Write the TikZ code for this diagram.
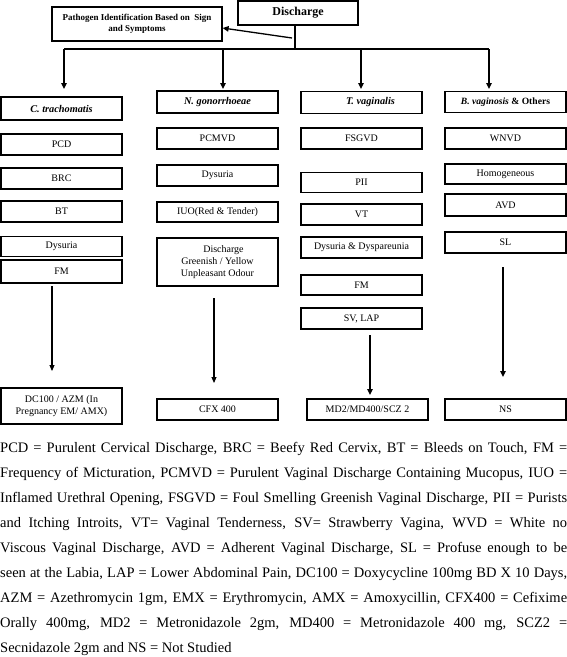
\documentclass[tikz,border=0pt]{standalone}
\usepackage{fontspec}
\setmainfont{Liberation Serif}
\usetikzlibrary{arrows.meta,shadows}
\tikzset{
  shd/.style={fill=white, drop shadow={shadow xshift=0.9pt, shadow yshift=-0.9pt, opacity=1, fill=black}},
  bx/.style={draw, shd, line width=1.2pt, minimum width=121pt, inner sep=1pt, align=center, font=\fontsize{10}{12}\selectfont},
  hd/.style={bx, font=\fontsize{10.3}{12}\selectfont\bfseries\itshape},
  arr/.style={-{Triangle[length=6pt,width=5.5pt]}, line width=1.6pt},
  arrthin/.style={-{Triangle[length=6pt,width=5pt]}, line width=1.1pt},
  conn/.style={line width=1.5pt},
  para/.style={anchor=base west, inner sep=0pt, font=\fontsize{14.5}{25}\selectfont},
}
\begin{document}
\begin{tikzpicture}[x=1pt,y=-1pt]
\useasboundingbox (0,0) rectangle (567,657);
% top
\node[draw, shd, line width=1.2pt, minimum width=120pt, minimum height=24pt, inner sep=0pt, font=\fontsize{12}{14}\selectfont\bfseries] (disch) at (298,13) {Discharge};
\node[draw, shd, line width=1.2pt, minimum width=170pt, minimum height=34pt, inner sep=1pt, align=center, font=\fontsize{9}{12}\selectfont\bfseries] (path) at (137,24) {Pathogen Identification Based on\ \ Sign\\[-1pt]and Symptoms};
\coordinate (j) at (295,49);
\coordinate (pa) at (292,38);
\coordinate (h1) at (64,49);
\coordinate (h2) at (223,49);
\coordinate (h3) at (361,49);
\coordinate (h4) at (489,49);
\coordinate (t1) at (64,89);
\coordinate (t2) at (223,89);
\coordinate (t3) at (361,89);
\coordinate (t4) at (489,89);
\draw[conn] (disch.south -| j) -- (j);
\draw[arr, line width=1.3pt] (pa) -- ([yshift=-4pt]path.east);
\draw[conn] (h1) -- (h4);
\draw[arr] (h1) -- (t1);
\draw[arr] (h2) -- (t2);
\draw[arr] (h3) -- (t3);
\draw[arr] (h4) -- (t4);
% column 1
\node[hd, minimum height=23pt] (ct) at (61.5,108.5) {C. trachomatis};
\node[bx, minimum height=21pt] (pcd) at (61.5,144.5) {PCD};
\node[bx, minimum height=21pt] (brc) at (61.5,178.5) {BRC};
\node[bx, minimum height=21pt] (bt) at (61.5,211.5) {BT};
\node[bx, minimum height=20pt] (dy1) at (61.5,246.5) {Dysuria};
\node[bx, minimum height=23pt] (fm1) at (61.5,271.5) {FM};
\node[bx, minimum height=36pt] (dc) at (61.5,406) {DC100 / AZM (In\\Pregnancy EM/ AMX)};
% column 2
\node[hd, minimum height=22pt] (ng) at (217.5,102) {N. gonorrhoeae};
\node[bx, minimum height=21pt] (pcmvd) at (217.5,138.5) {PCMVD};
\node[bx, minimum height=21pt] (dy2) at (217.5,175.5) {Dysuria};
\node[bx, minimum height=20pt] (iuo) at (217.5,212) {IUO(Red \& Tender)};
\node[bx, minimum height=48pt] (dis) at (217.5,262) {\hspace*{12pt}Discharge\\Greenish / Yellow\\Unpleasant Odour};
\node[bx, minimum height=21pt] (cfx) at (217.5,409.5) {CFX 400};
% column 3
\node[hd, minimum height=22pt] (tv) at (361.5,102.5) {\hspace*{18pt}T. vaginalis};
\node[bx, minimum height=21pt] (fsgvd) at (361.5,138.5) {FSGVD};
\node[bx, minimum height=20pt] (pii) at (361.5,182.5) {PII};
\node[bx, minimum height=21pt] (vt) at (361.5,214.5) {VT};
\node[bx, minimum height=21pt] (dd) at (361.5,247.5) {Dysuria \& Dyspareunia};
\node[bx, minimum height=20pt] (fm3) at (361.5,285) {FM};
\node[bx, minimum height=21pt] (svlap) at (361.5,318.5) {SV, LAP};
\node[bx, minimum height=21pt] (md) at (367.5,409.5) {MD2/MD400/SCZ 2};
% column 4
\node[bx, minimum height=21pt, font=\fontsize{9.6}{12}\selectfont\bfseries] (bv) at (505.5,102) {\textit{B. vaginosis} \& Others};
\node[bx, minimum height=21pt] (wnvd) at (505.5,138.5) {WNVD};
\node[bx, minimum height=20pt] (hom) at (505.5,174) {Homogeneous};
\node[bx, minimum height=22pt] (avd) at (505.5,205) {AVD};
\node[bx, minimum height=21pt] (sl) at (505.5,242.5) {SL};
\node[bx, minimum height=21pt] (ns) at (505.5,409.5) {NS};
% lower arrows
\coordinate (a1s) at (52,286);
\coordinate (a1e) at (52,371);
\coordinate (a2s) at (214,298);
\coordinate (a2e) at (214,383);
\coordinate (a3s) at (370,335);
\coordinate (a3e) at (370,395);
\coordinate (a4s) at (503,267);
\coordinate (a4e) at (503,377);
\draw[arrthin] (a1s) -- (a1e);
\draw[arrthin] (a2s) -- (a2e);
\draw[arr, line width=2.2pt] (a3s) -- (a3e);
\draw[arr, line width=1.8pt] (a4s) -- (a4e);
% legend
\node[para] (p1) at (0,452.5) {\makebox[567pt][s]{PCD = Purulent Cervical Discharge, BRC = Beefy Red Cervix, BT = Bleeds on Touch, FM =}};
\node[para] (p2) at (0,477.5) {\makebox[567pt][s]{Frequency of Micturation, PCMVD = Purulent Vaginal Discharge Containing Mucopus, IUO =}};
\node[para] (p3) at (0,502.5) {\makebox[567pt][s]{Inflamed Urethral Opening, FSGVD = Foul Smelling Greenish Vaginal Discharge, PII = Purists}};
\node[para] (p4) at (0,527.5) {\makebox[567pt][s]{and Itching Introits, VT= Vaginal Tenderness, SV= Strawberry Vagina, WVD = White no}};
\node[para] (p5) at (0,552.5) {\makebox[567pt][s]{Viscous Vaginal Discharge, AVD = Adherent Vaginal Discharge, SL = Profuse enough to be}};
\node[para] (p6) at (0,577.5) {\makebox[567pt][s]{seen at the Labia, LAP = Lower Abdominal Pain, DC100 = Doxycycline 100mg BD X 10 Days,}};
\node[para] (p7) at (0,602.5) {\makebox[567pt][s]{AZM = Azethromycin 1gm, EMX = Erythromycin, AMX = Amoxycillin, CFX400 = Cefixime}};
\node[para] (p8) at (0,627.5) {\makebox[567pt][s]{Orally 400mg, MD2 = Metronidazole 2gm, MD400 = Metronidazole 400 mg, SCZ2 =}};
\node[para] (p9) at (0,652.5) {Secnidazole 2gm and NS = Not Studied};
\end{tikzpicture}
\end{document}
